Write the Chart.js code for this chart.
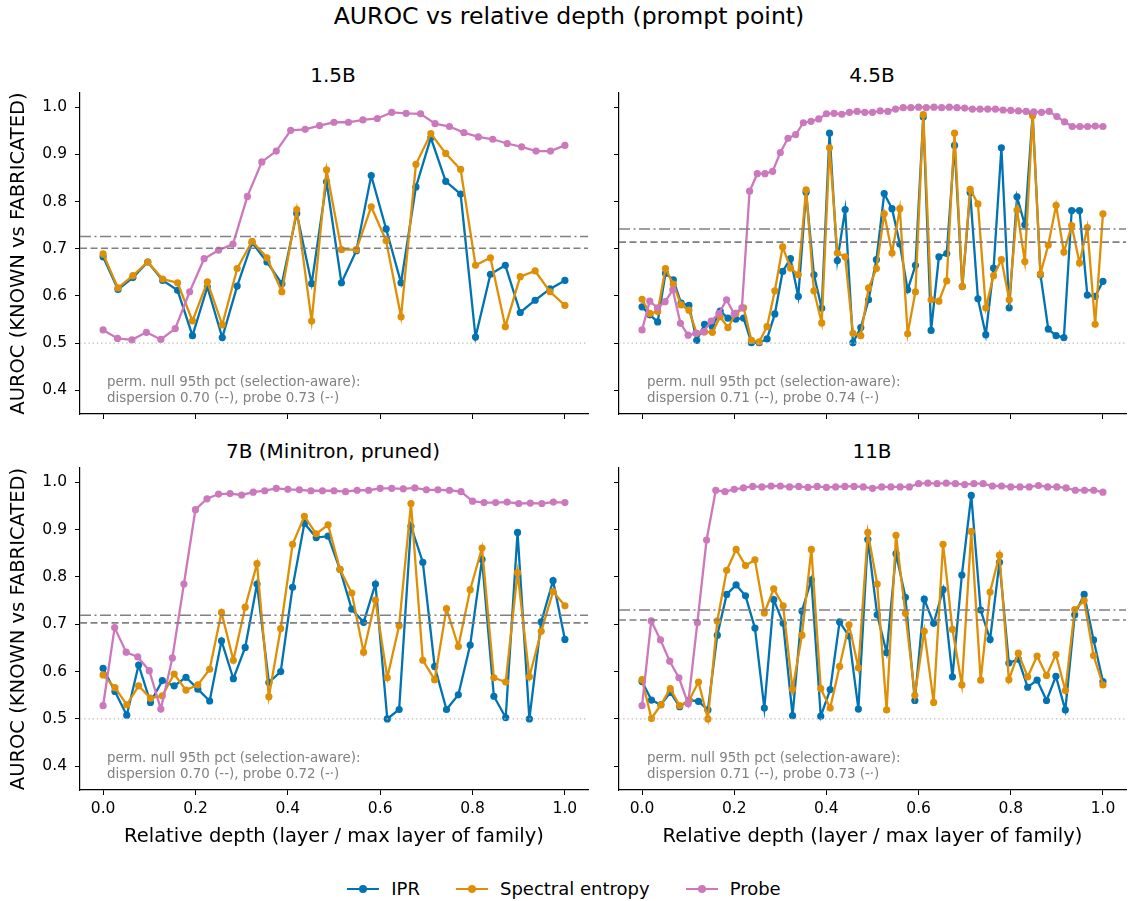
<!DOCTYPE html>
<html>
<head>
<meta charset="utf-8">
<script src="https://cdn.jsdelivr.net/npm/chart.js@4.4.0/dist/chart.umd.min.js"></script>
<style>
body { margin: 0; width: 1128px; height: 901px; overflow: hidden; background: #fff; position: relative; font-family: "DejaVu Sans", sans-serif; }
canvas { position: absolute; }
.t { position: absolute; white-space: nowrap; transform: translate(-50%, -50%); color: #000; }
.note { position: absolute; white-space: nowrap; color: #808080; font-size: 13.4px; line-height: 16px; }
#legend { position: absolute; left: 0; width: 1128px; top: 878px; display: flex; justify-content: center; font-size: 18px; }
.item { display: flex; align-items: center; margin: 0 18px; }
.sw { position: relative; width: 32px; height: 2px; margin-right: 12px; }
.sw i { position: absolute; left: 12px; top: -3px; width: 8px; height: 8px; border-radius: 50%; }
</style>
</head>
<body>
<div class="t" style="left:569px; top:16px; font-size:23.6px;">AUROC vs relative depth (prompt point)</div>
<div class="t" style="left:333px; top:75px; font-size:20px;">1.5B</div>
<div class="t" style="left:872px; top:75px; font-size:20px;">4.5B</div>
<div class="t" style="left:333px; top:451px; font-size:20px;">7B (Minitron, pruned)</div>
<div class="t" style="left:872px; top:451px; font-size:20px;">11B</div>

<canvas id="c1" width="592" height="370" style="left:0; top:80px;"></canvas>
<canvas id="c2" width="530" height="370" style="left:600px; top:80px;"></canvas>
<canvas id="c3" width="592" height="400" style="left:0; top:455px;"></canvas>
<canvas id="c4" width="530" height="400" style="left:600px; top:455px;"></canvas>

<div class="note" style="left:107px; top:374px;">perm. null 95th pct (selection-aware):<br>dispersion 0.70 (--), probe 0.73 (-·)</div>
<div class="note" style="left:647px; top:374px;">perm. null 95th pct (selection-aware):<br>dispersion 0.71 (--), probe 0.74 (-·)</div>
<div class="note" style="left:107px; top:750px;">perm. null 95th pct (selection-aware):<br>dispersion 0.70 (--), probe 0.72 (-·)</div>
<div class="note" style="left:647px; top:750px;">perm. null 95th pct (selection-aware):<br>dispersion 0.71 (--), probe 0.73 (-·)</div>

<div id="legend">
  <div class="item"><div class="sw" style="background:#0173b2"><i style="background:#0173b2"></i></div>IPR</div>
  <div class="item"><div class="sw" style="background:#de8f05"><i style="background:#de8f05"></i></div>Spectral entropy</div>
  <div class="item"><div class="sw" style="background:#cc78bc"><i style="background:#cc78bc"></i></div>Probe</div>
</div>

<script>
// values (x = layer / max layer)
const titles = ['1.5B', '4.5B', '7B (Minitron, pruned)', '11B']
const xTicks = [0, 0.2, 0.4, 0.6, 0.8, 1.0]
const yTicks = [0.4, 0.5, 0.6, 0.7, 0.8, 0.9, 1.0]

const ipr15 = [0.683, 0.614, 0.639, 0.672, 0.633, 0.612, 0.516, 0.619, 0.512, 0.621, 0.713, 0.672, 0.626, 0.775, 0.626, 0.842,
    0.628, 0.696, 0.855, 0.742, 0.628, 0.831, 0.935, 0.843, 0.816, 0.513, 0.646, 0.665, 0.565, 0.591, 0.615, 0.633]
const spec15 = [0.689, 0.617, 0.643, 0.672, 0.636, 0.628, 0.547, 0.630, 0.539, 0.658, 0.716, 0.681, 0.609, 0.783, 0.547, 0.867,
    0.698, 0.698, 0.789, 0.717, 0.556, 0.879, 0.944, 0.902, 0.868, 0.665, 0.681, 0.535, 0.641, 0.653, 0.609, 0.580]
const probe15 = [0.528, 0.510, 0.507, 0.523, 0.508, 0.531, 0.609, 0.679, 0.697, 0.710, 0.811, 0.884, 0.907, 0.951, 0.953, 0.961, 0.968,
    0.968, 0.973, 0.976, 0.989, 0.987, 0.986, 0.965, 0.959, 0.946, 0.937, 0.932, 0.923, 0.916, 0.907, 0.907, 0.919]

const ipr45 = [0.577, 0.560, 0.545, 0.648, 0.634, 0.585, 0.580, 0.506, 0.540, 0.535, 0.568, 0.553, 0.551, 0.553, 0.501, 0.501,
    0.509, 0.562, 0.652, 0.679, 0.599, 0.820, 0.645, 0.574, 0.945, 0.675, 0.783, 0.501, 0.533, 0.592, 0.677, 0.817, 0.785, 0.710,
    0.613, 0.665, 0.979, 0.527, 0.683, 0.690, 0.919, 0.620, 0.819, 0.594, 0.518, 0.659, 0.914, 0.575, 0.810, 0.751, 0.985, 0.645,
    0.530, 0.516, 0.512, 0.781, 0.781, 0.602, 0.599, 0.631]
const spec45 = [0.593, 0.563, 0.567, 0.658, 0.625, 0.581, 0.570, 0.521, 0.524, 0.523, 0.556, 0.533, 0.563, 0.575, 0.506, 0.503,
    0.535, 0.611, 0.704, 0.659, 0.645, 0.825, 0.611, 0.543, 0.914, 0.691, 0.683, 0.521, 0.516, 0.617, 0.658, 0.774, 0.691, 0.785,
    0.520, 0.609, 0.984, 0.592, 0.589, 0.632, 0.945, 0.620, 0.826, 0.795, 0.575, 0.643, 0.677, 0.592, 0.782, 0.673, 0.982, 0.647,
    0.708, 0.792, 0.693, 0.749, 0.670, 0.745, 0.540, 0.774]
const probe45 = [0.528, 0.589, 0.575, 0.588, 0.613, 0.542, 0.517, 0.521, 0.524, 0.547, 0.563, 0.592, 0.562, 0.575, 0.822, 0.859,
    0.859, 0.864, 0.904, 0.934, 0.942, 0.967, 0.970, 0.975, 0.986, 0.987, 0.985, 0.989, 0.991, 0.989, 0.989, 0.992, 0.991, 0.996,
    0.999, 0.999, 1.000, 0.999, 1.000, 0.999, 1.000, 0.999, 0.998, 0.996, 0.996, 0.996, 0.996, 0.994, 0.993, 0.992, 0.991, 0.990,
    0.989, 0.991, 0.980, 0.969, 0.959, 0.959, 0.959, 0.960, 0.959]

const ipr7 = [0.607, 0.558, 0.508, 0.614, 0.535, 0.581, 0.570, 0.588, 0.563, 0.538, 0.665, 0.585, 0.651, 0.785, 0.577, 0.600,
    0.778, 0.913, 0.883, 0.886, 0.816, 0.732, 0.704, 0.785, 0.500, 0.520, 0.907, 0.831, 0.611, 0.520, 0.551, 0.656, 0.837, 0.548,
    0.503, 0.894, 0.500, 0.705, 0.792, 0.668]
const spec7 = [0.593, 0.566, 0.530, 0.570, 0.544, 0.549, 0.595, 0.561, 0.572, 0.605, 0.725, 0.624, 0.736, 0.828, 0.547, 0.691,
    0.869, 0.928, 0.891, 0.910, 0.816, 0.766, 0.641, 0.751, 0.587, 0.697, 0.955, 0.624, 0.583, 0.733, 0.653, 0.773, 0.861, 0.587,
    0.578, 0.809, 0.589, 0.685, 0.769, 0.739]
const probe7 = [0.528, 0.693, 0.641, 0.631, 0.602, 0.521, 0.629, 0.785, 0.942, 0.965, 0.975, 0.976, 0.973, 0.979, 0.982, 0.987,
    0.985, 0.984, 0.982, 0.982, 0.982, 0.980, 0.983, 0.983, 0.987, 0.987, 0.986, 0.988, 0.984, 0.984, 0.983, 0.980, 0.960, 0.957,
    0.957, 0.958, 0.955, 0.956, 0.955, 0.958, 0.957]

const ipr11 = [0.579, 0.540, 0.530, 0.556, 0.526, 0.540, 0.537, 0.519, 0.677, 0.763, 0.783, 0.760, 0.692, 0.523, 0.752, 0.702,
    0.507, 0.728, 0.794, 0.506, 0.562, 0.705, 0.675, 0.521, 0.879, 0.720, 0.640, 0.849, 0.757, 0.539, 0.753, 0.702, 0.773, 0.589,
    0.804, 0.972, 0.730, 0.668, 0.831, 0.618, 0.626, 0.567, 0.582, 0.539, 0.590, 0.519, 0.720, 0.763, 0.667, 0.579]
const spec11 = [0.583, 0.501, 0.530, 0.564, 0.528, 0.539, 0.578, 0.500, 0.707, 0.814, 0.858, 0.824, 0.836, 0.724, 0.775, 0.739,
    0.563, 0.677, 0.858, 0.564, 0.523, 0.611, 0.699, 0.608, 0.894, 0.785, 0.519, 0.888, 0.723, 0.550, 0.685, 0.535, 0.869, 0.689,
    0.572, 0.896, 0.582, 0.768, 0.846, 0.583, 0.639, 0.589, 0.633, 0.592, 0.636, 0.560, 0.731, 0.750, 0.634, 0.572]
const probe11 = [0.528, 0.707, 0.667, 0.622, 0.587, 0.532, 0.703, 0.878, 0.983, 0.980, 0.985, 0.988, 0.991, 0.990, 0.992, 0.992,
    0.990, 0.991, 0.989, 0.991, 0.989, 0.990, 0.991, 0.991, 0.990, 0.987, 0.990, 0.990, 0.990, 0.990, 0.997, 0.998, 0.997, 0.998,
    0.997, 0.995, 0.997, 0.997, 0.992, 0.992, 0.990, 0.990, 0.990, 0.993, 0.990, 0.990, 0.988, 0.983, 0.983, 0.983, 0.979]

// permutation null thresholds per panel
const nullDisp = [0.701, 0.714, 0.703, 0.709]
const nullProbe = [0.726, 0.742, 0.719, 0.730]
const chanceLevel = 0.5

const FONT = 'DejaVu Sans'
const xy = arr => arr.map((v, i) => ({ x: i / (arr.length - 1), y: v }))
const hline = v => [{ x: -0.05, y: v }, { x: 1.05, y: v }]

function series(label, data, color, order) {
    return {
        label: label, data: xy(data), borderColor: color, backgroundColor: color,
        borderWidth: 2.3, pointRadius: 3.6, pointBorderWidth: 0, pointBackgroundColor: color, order: order
    }
}
function ref(v, color, dash, width, order) {
    return { data: hline(v), borderColor: color, borderWidth: width, borderDash: dash, pointRadius: 0, order: order }
}

function makeChart(id, n, ipr, spec, probe, left, bottom) {
    const tickFont = { family: FONT, size: 15.5 }
    const labFont = { family: FONT, size: 19.5 }
    return new Chart(document.getElementById(id), {
        type: 'line',
        data: {
            datasets: [
                series('IPR', ipr, '#0173b2', 6),
                series('Spectral entropy', spec, '#de8f05', 5),
                series('Probe', probe, '#cc78bc', 4),
                ref(chanceLevel, '#bdbdbd', [1.4, 2.8], 1.3, 3),
                ref(nullDisp[n], '#808080', [7, 3.5], 1.6, 2),
                ref(nullProbe[n], '#808080', [11, 3.5, 2, 3.5], 1.6, 1)
            ]
        },
        options: {
            responsive: false,
            animation: false,
            devicePixelRatio: 1,
            layout: { padding: { top: 13, right: 0, bottom: 0, left: 0 } },
            plugins: { legend: { display: false }, tooltip: { enabled: false } },
            scales: {
                x: {
                    type: 'linear', min: -0.05, max: 1.05,
                    afterBuildTicks: s => { s.ticks = xTicks.map(v => ({ value: v })) },
                    afterFit: s => { s.height = bottom ? 65 : 36; s.paddingLeft = 0; s.paddingRight = 0 },
                    grid: { drawOnChartArea: false, drawTicks: true, tickLength: 5, color: '#000' },
                    border: { display: true, color: '#000', width: 1.2 },
                    ticks: { display: bottom, color: '#000', font: tickFont, padding: 5, maxRotation: 0, callback: v => v.toFixed(1) },
                    title: { display: bottom, text: 'Relative depth (layer / max layer of family)', color: '#000', font: labFont, padding: { top: 0, bottom: 6 } }
                },
                y: {
                    min: 0.35, max: 1.03,
                    afterBuildTicks: s => { s.ticks = yTicks.map(v => ({ value: v })) },
                    afterFit: s => { s.width = left ? 80 : 19; s.paddingTop = 0; s.paddingBottom = 0 },
                    grid: { drawOnChartArea: false, drawTicks: true, tickLength: 5, color: '#000' },
                    border: { display: true, color: '#000', width: 1.2 },
                    ticks: { display: left, color: '#000', font: tickFont, padding: 8, callback: v => v.toFixed(1) },
                    title: { display: left, text: 'AUROC (KNOWN vs FABRICATED)', color: '#000', font: labFont, padding: { top: 7, bottom: 0 } }
                }
            }
        }
    })
}

makeChart('c1', 0, ipr15, spec15, probe15, true, false)
makeChart('c2', 1, ipr45, spec45, probe45, false, false)
makeChart('c3', 2, ipr7, spec7, probe7, true, true)
makeChart('c4', 3, ipr11, spec11, probe11, false, true)
</script>
</body>
</html>
